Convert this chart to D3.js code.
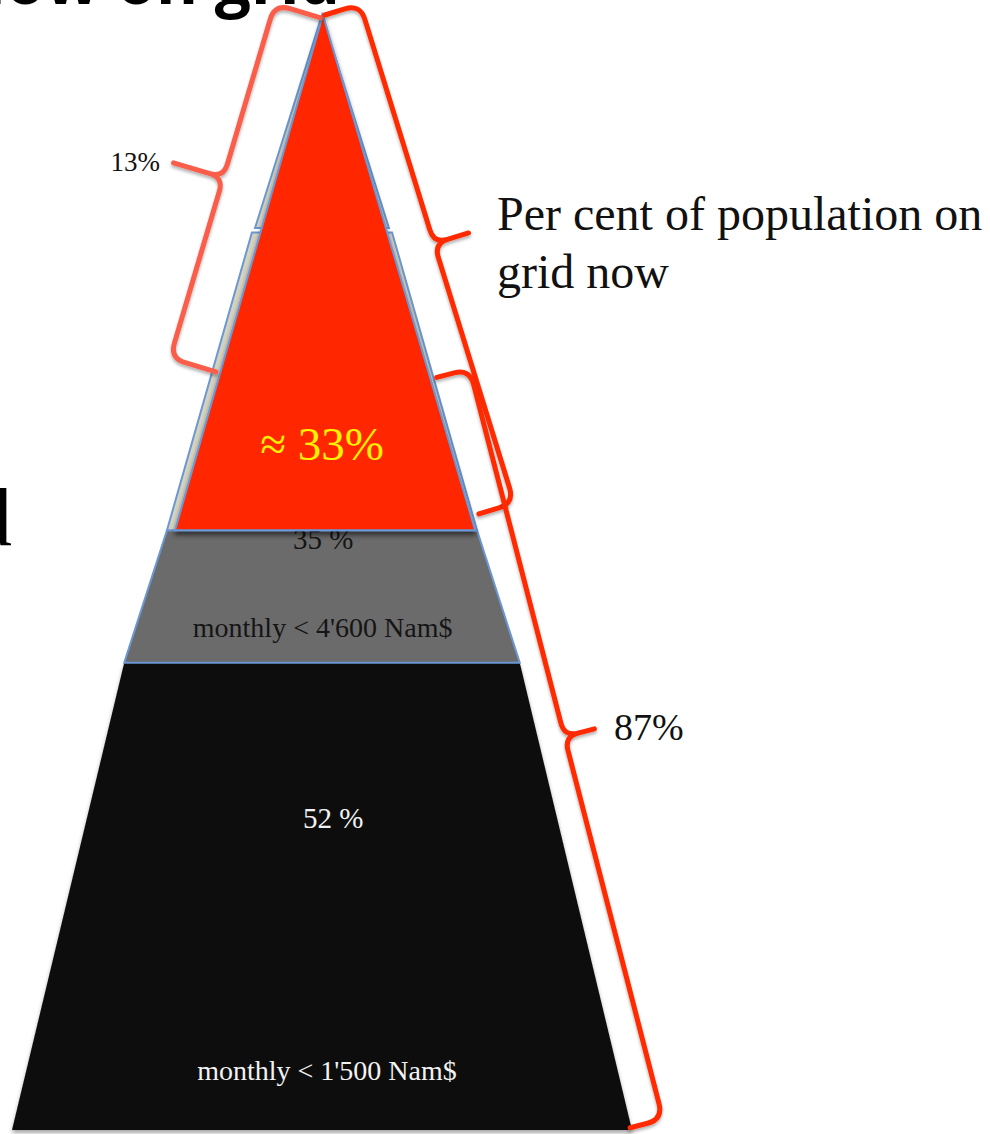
<!DOCTYPE html>
<html>
<head>
<meta charset="utf-8">
<script src="https://cdn.jsdelivr.net/npm/d3@7"></script>
<style>
  body { margin: 0; background: #fff; }
  svg { display: block; }
</style>
</head>
<body>
<script>
// ---- pyramid bands, top to bottom (level = % of pyramid height below the apex)
const bandNames        = ["apex", "upper", "middle income", "low income"];
const bandTopLevel     = [0, 19.5, 46.2, 58.1];
const bandBottomLevel  = [19.1, 46.2, 58.1, 100];
const bandTopHalf      = [0, 11.3, 25.0, 31.9];   // half-width in pyramid units
const bandBottomHalf   = [10.8, 25.0, 31.9, 50.0];

// ---- income groups shown in the two lower bands
const incomeLabels = ["monthly < 4'600 Nam$", "monthly < 1'500 Nam$"];
const incomeShares = [35, 52];

// ---- electrified share (red wedge) and grid split
const wedgeShare  = 33;
const wedgeBottomLevel = 46.2;
const wedgeBottomHalf  = 24.2;
const gridGroups  = ["on grid", "off grid"];
const gridShares  = [13, 87];
const gridCaption = ["Per cent of population on", "grid now"];

// ---- layout
const W = 990, H = 1134;
const y = d3.scaleLinear().domain([0, 100]).range([15, 1130]);
const x = d3.scaleLinear().domain([-50, 50]).range([12, 632]);

const styles = {
  bandFill: ["#d6d3c1", "#d6d3c1", "#6b6b6b", "#0e0e0e"],
  bandStroke: ["#6b98d4", "#6b98d4", "#6b98d4", "none"],
  wedge: "#ff2600",
  braceLeft: "#fa5d48",
  braceRight: "#ff2a00",
  serif: "'Liberation Serif', 'Times New Roman', serif"
};

// label placement (pyramid units)
const shareLabelPos  = [[0.2, 47.9], [1.8, 72.9]];
const incomeLabelPos = [[0.1, 55.8], [0.8, 95.5]];

// braces: end points in pyramid units, side (+1 right / -1 left), depth, tip, cusp position
const braces = [
  { from: [-0.2, 0.25], to: [-17.1, 32.0], side: -1, depth: 48, tip: 52, t: 0.49, color: styles.braceLeft },
  { from: [0.45, 0.0],  to: [25.3, 44.75], side: 1,  depth: 37, tip: 36, t: 0.48, color: styles.braceRight },
  { from: [18.5, 32.5], to: [49.7, 99.8],  side: 1,  depth: 34, tip: 31, t: 0.49, color: styles.braceRight }
];

const svg = d3.select("body").append("svg")
  .attr("width", W).attr("height", H)
  .attr("viewBox", [0, 0, W, H]);

const defs = svg.append("defs");
function shadow(id, dy, sd, op) {
  defs.append("filter").attr("id", id)
    .attr("x", "-20%").attr("y", "-20%").attr("width", "140%").attr("height", "140%")
    .append("feDropShadow")
    .attr("dx", 0).attr("dy", dy).attr("stdDeviation", sd)
    .attr("flood-color", "#000").attr("flood-opacity", op);
}
shadow("shWedge", 4, 2.5, 0.55);
shadow("shBase", 3, 2, 0.35);
shadow("shBrace", 2.5, 1.8, 0.3);

// slide headings partly outside the frame
svg.append("text")
  .attr("x", 340).attr("y", 4)
  .attr("text-anchor", "end")
  .attr("font-family", "'Open Sans', 'Liberation Sans', sans-serif")
  .attr("font-weight", 700)
  .attr("font-size", 64)
  .attr("fill", "#000")
  .text("Who is now on grid");

svg.append("text")
  .attr("x", 12).attr("y", 545)
  .attr("text-anchor", "end")
  .attr("font-family", styles.serif)
  .attr("font-size", 82)
  .attr("fill", "#000")
  .text("grid");

const line = d3.line();
function trapezoid(i) {
  const t = bandTopLevel[i], b = bandBottomLevel[i];
  const th = bandTopHalf[i], bh = bandBottomHalf[i];
  const pts = th === 0
    ? [[x(0), y(t)], [x(bh), y(b)], [x(-bh), y(b)]]
    : [[x(-th), y(t)], [x(th), y(t)], [x(bh), y(b)], [x(-bh), y(b)]];
  return line(pts) + "Z";
}

// bands drawn from the base upward
const order = d3.range(bandNames.length).reverse();
svg.append("g").selectAll("path")
  .data(order)
  .join("path")
  .attr("d", i => trapezoid(i))
  .attr("fill", i => styles.bandFill[i])
  .attr("stroke", i => styles.bandStroke[i])
  .attr("stroke-width", 2)
  .attr("stroke-linejoin", "miter")
  .attr("filter", i => i === 3 ? "url(#shBase)" : null);

// band labels
const labels = svg.append("g").attr("font-family", styles.serif);
labels.selectAll("text.share")
  .data(incomeShares)
  .join("text")
  .attr("class", "share")
  .attr("x", (d, i) => x(shareLabelPos[i][0]))
  .attr("y", (d, i) => y(shareLabelPos[i][1]))
  .attr("text-anchor", "middle")
  .attr("font-size", 29)
  .attr("fill", (d, i) => i === 0 ? "#151515" : "#f2f2f2")
  .text(d => `${d} %`);

labels.selectAll("text.income")
  .data(incomeLabels)
  .join("text")
  .attr("class", "income")
  .attr("x", (d, i) => x(incomeLabelPos[i][0]))
  .attr("y", (d, i) => y(incomeLabelPos[i][1]))
  .attr("text-anchor", "middle")
  .attr("font-size", 28)
  .attr("fill", (d, i) => i === 0 ? "#151515" : "#f2f2f2")
  .text(d => d);

// red wedge
svg.append("path")
  .attr("d", line([[x(0.15), y(0)], [x(wedgeBottomHalf + 0.5), y(wedgeBottomLevel)], [x(-wedgeBottomHalf + 0.5), y(wedgeBottomLevel)]]) + "Z")
  .attr("fill", styles.wedge)
  .attr("stroke", "#6b98d4")
  .attr("stroke-width", 2)
  .attr("filter", "url(#shWedge)");

svg.append("text")
  .attr("x", x(0)).attr("y", y(39.9))
  .attr("text-anchor", "middle")
  .attr("font-family", styles.serif)
  .attr("font-size", 47)
  .attr("fill", "#fff200")
  .text(`\u2248 ${wedgeShare}%`);

// curly braces
function bracePath(b) {
  const p1 = [x(b.from[0]), y(b.from[1])];
  const p2 = [x(b.to[0]), y(b.to[1])];
  const dx = p2[0] - p1[0], dy = p2[1] - p1[1];
  const L = Math.hypot(dx, dy);
  const u = [dx / L, dy / L];
  const n = b.side > 0 ? [u[1], -u[0]] : [-u[1], u[0]];
  const P = (s, h) => [p1[0] + s * u[0] + h * n[0], p1[1] + s * u[1] + h * n[1]];
  const d = b.depth, e = b.tip, m = b.t * L, r = 16, rc = 14;
  const p = d3.path();
  p.moveTo(...P(0, 0));
  p.lineTo(...P(0, d - r));
  p.quadraticCurveTo(...P(0, d), ...P(r, d));
  p.lineTo(...P(m - rc, d));
  p.quadraticCurveTo(...P(m, d), ...P(m, d + rc));
  p.lineTo(...P(m, d + e));
  p.moveTo(...P(m, d + rc));
  p.quadraticCurveTo(...P(m, d), ...P(m + rc, d));
  p.lineTo(...P(L - r, d));
  p.quadraticCurveTo(...P(L, d), ...P(L, d - r));
  p.lineTo(...P(L, 0));
  return p.toString();
}

svg.append("g").selectAll("path")
  .data(braces)
  .join("path")
  .attr("d", bracePath)
  .attr("fill", "none")
  .attr("stroke", b => b.color)
  .attr("stroke-width", 5)
  .attr("stroke-linecap", "round")
  .attr("stroke-linejoin", "round")
  .attr("filter", "url(#shBrace)");

// brace captions
const cap = svg.append("g").attr("font-family", styles.serif).attr("fill", "#111");
cap.append("text")
  .attr("x", 160).attr("y", 171)
  .attr("text-anchor", "end")
  .attr("font-size", 27)
  .text(`${gridShares[0]}%`);

cap.append("text")
  .attr("x", 614).attr("y", 740)
  .attr("font-size", 38)
  .text(`${gridShares[1]}%`);

cap.selectAll("text.caption")
  .data(gridCaption)
  .join("text")
  .attr("class", "caption")
  .attr("x", 497)
  .attr("y", (d, i) => 230 + i * 58)
  .attr("font-size", 48)
  .text(d => d);
</script>
</body>
</html>
